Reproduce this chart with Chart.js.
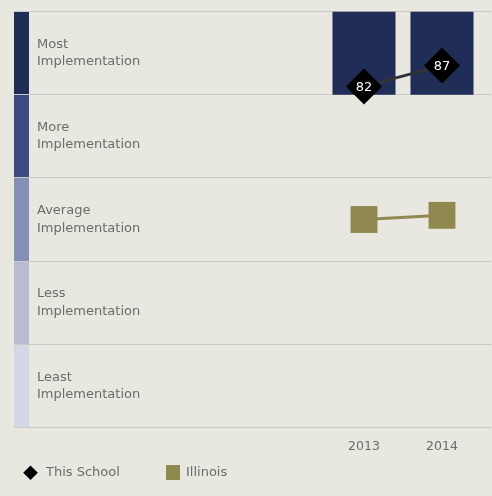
<!DOCTYPE html>
<html><head><meta charset="utf-8">
<script src="https://cdn.jsdelivr.net/npm/chart.js@4/dist/chart.umd.min.js"></script>
<style>html,body{margin:0;padding:0;background:#e8e8e0;overflow:hidden;} #wrap{position:relative;width:492px;height:496px;}</style>
</head><body><div id="wrap"><canvas id="c" width="492" height="496"></canvas></div>
<script>
// ---- data ----
const years = ['2013', '2014'];
const schoolScores = [82, 87];
const illinoisScores = [50, 51];
const schoolBand = [[80, 100], [80, 100]];
const seriesNames = ['This School', 'Illinois'];
const bandEdges = [100, 80, 60, 40, 20, 0];
const bandLabels = [
  ['Most', 'Implementation'],
  ['More', 'Implementation'],
  ['Average', 'Implementation'],
  ['Less', 'Implementation'],
  ['Least', 'Implementation']
];
const bandColors = ['#1f2d57', '#3b4a80', '#8590b6', '#b7bcd2', '#d4d8e6'];

const FONT = '"DejaVu Sans", Verdana, sans-serif';
const TEXT = '#6b6b6b';

const bandsPlugin = {
  id: 'bands',
  beforeDraw(chart) {
    const ctx = chart.ctx, y = chart.scales.y;
    ctx.save();
    ctx.fillStyle = '#e8e8e0';
    ctx.fillRect(0, 0, chart.width, chart.height);
    for (let i = 0; i < bandLabels.length; i++) {
      const yTop = y.getPixelForValue(bandEdges[i]);
      const yBot = y.getPixelForValue(bandEdges[i + 1]);
      ctx.fillStyle = bandColors[i];
      ctx.fillRect(14, yTop, 15, yBot - yTop);
      const mid = (yTop + yBot) / 2;
      ctx.fillStyle = TEXT;
      ctx.font = '13px ' + FONT;
      ctx.textBaseline = 'middle';
      ctx.textAlign = 'left';
      ctx.fillText(bandLabels[i][0], 37, mid - 8.7);
      ctx.fillText(bandLabels[i][1], 37, mid + 8.7);
    }
    ctx.strokeStyle = '#c9c9c9';
    ctx.lineWidth = 1;
    bandEdges.forEach(v => {
      const py = Math.floor(y.getPixelForValue(v)) + 0.5;
      ctx.beginPath(); ctx.moveTo(14, py); ctx.lineTo(491, py); ctx.stroke();
    });
    ctx.restore();
  },
  afterDatasetsDraw(chart) {
    const ctx = chart.ctx;
    const meta = chart.getDatasetMeta(2);
    ctx.save();
    ctx.fillStyle = '#ffffff';
    ctx.font = '13px ' + FONT;
    ctx.textAlign = 'center';
    ctx.textBaseline = 'middle';
    meta.data.forEach((pt, i) => ctx.fillText(String(schoolScores[i]), pt.x, pt.y + 1));
    ctx.restore();
  },
  afterDraw(chart) {
    const ctx = chart.ctx, x = chart.scales.x;
    ctx.save();
    ctx.fillStyle = TEXT;
    ctx.font = '12.5px ' + FONT;
    ctx.textAlign = 'center';
    ctx.textBaseline = 'middle';
    years.forEach((yr, i) => ctx.fillText(yr, x.getPixelForValue(i), 447));
    // legend
    const ly = 472.7;
    ctx.fillStyle = '#000000';
    ctx.beginPath();
    ctx.moveTo(30.5 - 7.3, ly); ctx.lineTo(30.5, ly - 7.3); ctx.lineTo(30.5 + 7.3, ly); ctx.lineTo(30.5, ly + 7.3);
    ctx.closePath(); ctx.fill();
    ctx.fillStyle = '#8f8950';
    ctx.fillRect(166, 465, 14, 15);
    ctx.fillStyle = TEXT;
    ctx.font = '13px ' + FONT;
    ctx.textAlign = 'left';
    ctx.fillText(seriesNames[0], 46, ly);
    ctx.fillText(seriesNames[1], 186, ly);
    ctx.restore();
  }
};

new Chart(document.getElementById('c'), {
  type: 'bar',
  data: {
    labels: years,
    datasets: [
      {
        type: 'bar', label: 'band', data: schoolBand,
        backgroundColor: '#1f2d57', borderWidth: 0,
        categoryPercentage: 1, barPercentage: 0.808, order: 3
      },
      {
        type: 'line', label: seriesNames[1], data: illinoisScores,
        borderColor: '#8f8950', borderWidth: 3, backgroundColor: '#8f8950',
        pointStyle: 'rect', pointRadius: 19, pointHoverRadius: 19, pointBorderWidth: 0,
        pointBackgroundColor: '#8f8950', order: 2, clip: false
      },
      {
        type: 'line', label: seriesNames[0], data: schoolScores,
        borderColor: '#333333', borderWidth: 3, backgroundColor: '#000000',
        pointStyle: 'rectRot', pointRadius: 18, pointHoverRadius: 18, pointBorderWidth: 0,
        pointBackgroundColor: '#000000', order: 1, clip: false
      }
    ]
  },
  options: {
    responsive: false,
    animation: false,
    layout: { autoPadding: false, padding: { left: 325, right: 11, top: 11.5, bottom: 68.5 } },
    plugins: { legend: { display: false }, tooltip: { enabled: false } },
    scales: {
      x: { type: 'category', display: false, offset: true },
      y: { min: 0, max: 100, display: false }
    }
  },
  plugins: [bandsPlugin]
});
</script>
</body></html>
